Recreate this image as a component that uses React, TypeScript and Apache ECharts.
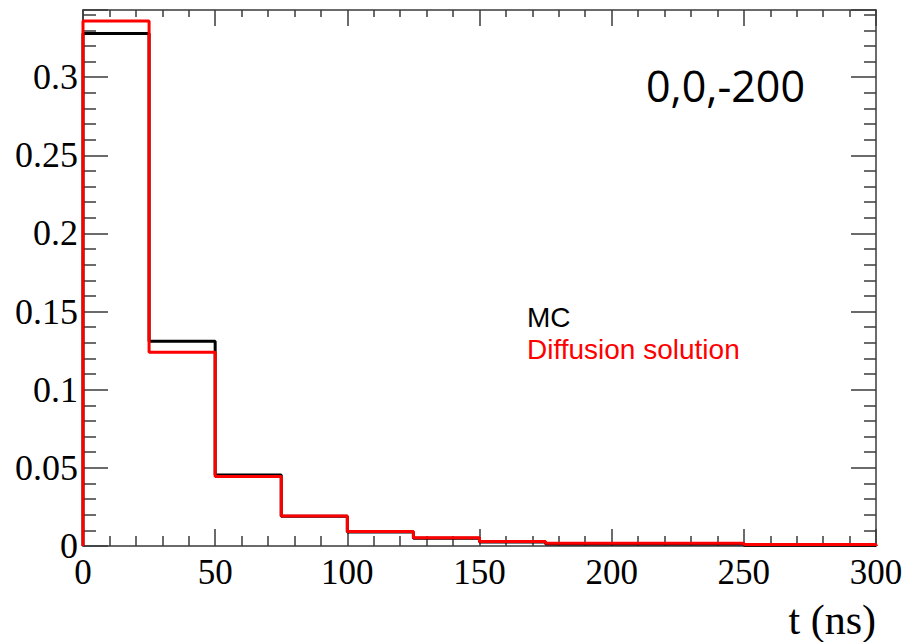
import React, { useEffect, useRef } from "react";
import * as echarts from "echarts";

const binEdges = [0, 25, 50, 75, 100, 125, 150, 175, 200, 225, 250, 275, 300];
const mcValues = [0.328, 0.131, 0.0455, 0.019, 0.009, 0.005, 0.0026, 0.0012, 0.0012, 0.0012, 0.0005, 0.0005];
const diffusionValues = [0.336, 0.124, 0.0445, 0.0192, 0.0093, 0.0052, 0.0028, 0.0017, 0.0017, 0.0017, 0.0009, 0.0009];
const seriesNames = ["MC", "Diffusion solution"];
const positionLabel = "0,0,-200";
const xAxisTitle = "t (ns)";
const xRange = [0, 300];
const yRange = [0, 0.343];

function histPoints(values: number[]) {
  const pts: number[][] = [[binEdges[0], 0]];
  values.forEach((v, i) => pts.push([binEdges[i], v]));
  pts.push([binEdges[binEdges.length - 1], values[values.length - 1]]);
  pts.push([binEdges[binEdges.length - 1], 0]);
  return pts;
}

export default function App() {
  const ref = useRef<HTMLDivElement>(null);
  useEffect(() => {
    if (!ref.current) return;
    const chart = echarts.init(ref.current, null, { renderer: "svg" });
    const axisColor = "#3a3a3a";
    const serif = "Liberation Serif";
    const sans = "Liberation Sans";
    const xCommon = {
      type: "value",
      min: xRange[0],
      max: xRange[1],
      interval: 50,
      splitLine: { show: false },
      axisLine: { show: true, onZero: false, lineStyle: { color: axisColor, width: 1.5 } },
    };
    const yCommon = {
      type: "value",
      min: yRange[0],
      max: yRange[1],
      interval: 0.05,
      splitLine: { show: false },
      axisLine: { show: true, onZero: false, lineStyle: { color: axisColor, width: 1.5 } },
    };
    chart.setOption({
      animation: false,
      backgroundColor: "#ffffff",
      grid: { left: 83, top: 10, right: 29, bottom: 96, containLabel: false, outerBoundsMode: "none" },
      xAxis: [
        {
          ...xCommon,
          position: "bottom",
          axisTick: { show: true, inside: true, length: 17, lineStyle: { color: axisColor, width: 1.5 } },
          minorTick: { show: true, splitNumber: 5, length: 10, lineStyle: { color: axisColor, width: 1.5 } },
          axisLabel: {
            show: true,
            margin: 9,
            color: "#000",
            fontFamily: serif,
            fontSize: 35,
            formatter: (v: number) => String(v),
          },
        },
        {
          ...xCommon,
          position: "top",
          axisTick: { show: true, inside: true, length: 16, lineStyle: { color: axisColor, width: 1.5 } },
          minorTick: { show: true, splitNumber: 5, length: 7, lineStyle: { color: axisColor, width: 1.5 } },
          axisLabel: { show: false },
        },
      ],
      yAxis: [
        {
          ...yCommon,
          position: "left",
          axisTick: { show: true, inside: true, length: 25, lineStyle: { color: axisColor, width: 1.5 } },
          minorTick: { show: true, splitNumber: 5, length: 13, lineStyle: { color: axisColor, width: 1.5 } },
          axisLabel: {
            show: true,
            showMaxLabel: false,
            margin: 5,
            color: "#000",
            fontFamily: serif,
            fontSize: 36,
            formatter: (v: number) => String(+v.toFixed(2)),
          },
        },
        {
          ...yCommon,
          position: "right",
          axisTick: { show: true, inside: true, length: 25, lineStyle: { color: axisColor, width: 1.5 } },
          minorTick: { show: true, splitNumber: 5, length: 12, lineStyle: { color: axisColor, width: 1.5 } },
          axisLabel: { show: false },
        },
      ],
      series: [
        {
          name: seriesNames[0],
          type: "line",
          step: "end",
          xAxisIndex: 0,
          yAxisIndex: 0,
          data: histPoints(mcValues),
          showSymbol: false,
          symbol: "none",
          lineStyle: { color: "#000000", width: 3 },
          z: 2,
        },
        {
          name: seriesNames[1],
          type: "line",
          step: "end",
          xAxisIndex: 0,
          yAxisIndex: 0,
          data: histPoints(diffusionValues),
          showSymbol: false,
          symbol: "none",
          lineStyle: { color: "#ff0000", width: 3 },
          z: 3,
        },
      ],
      graphic: [
        {
          type: "text",
          left: 646,
          top: 64,
          style: { text: positionLabel, fontFamily: "Open Sans", fontSize: 43, fill: "#000" },
        },
        {
          type: "text",
          left: 527,
          top: 303,
          style: {
            text: "{mc|" + seriesNames[0] + "}\n{diff|" + seriesNames[1] + "}",
            fontFamily: sans,
            fontSize: 28,
            rich: {
              mc: { fill: "#000000", fontFamily: sans, fontSize: 28, lineHeight: 32 },
              diff: { fill: "#ff0000", fontFamily: sans, fontSize: 28, lineHeight: 32 },
            },
          },
        },
        {
          type: "text",
          right: 29,
          top: 599,
          style: { text: xAxisTitle, fontFamily: serif, fontSize: 42, fill: "#000" },
        },
      ],
    });
    return () => chart.dispose();
  }, []);
  return (
    <div
      ref={ref}
      style={{ position: "fixed", left: 0, top: 0, width: 905, height: 642, background: "#fff" }}
    />
  );
}
